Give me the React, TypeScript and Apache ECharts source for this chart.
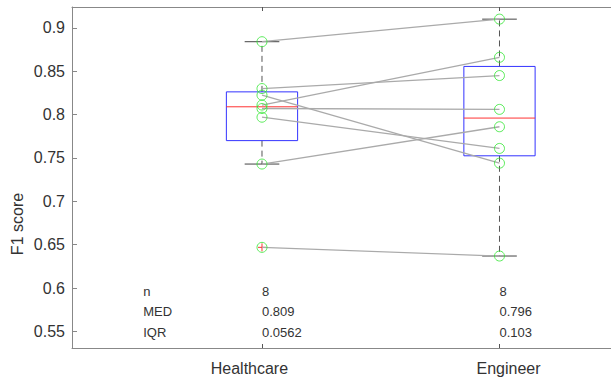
import React, { useEffect, useRef } from 'react';
import * as echarts from 'echarts';

// ---- data ----
const categories = ['Healthcare', 'Engineer'];
// paired observations (same index = same subject)
const healthcare = [0.884, 0.83, 0.8224, 0.811, 0.807, 0.797, 0.743, 0.647];
const engineer = [0.91, 0.845, 0.744, 0.866, 0.806, 0.761, 0.786, 0.637];
const yTicks = [0.55, 0.6, 0.65, 0.7, 0.75, 0.8, 0.85, 0.9];
const statNames = ['n', 'MED', 'IQR'];
const yAxisTitle = 'F1 score';

// MATLAB-style percentile
function prctile(sorted: number[], p: number) {
  const n = sorted.length;
  const pos = n * p + 0.5;
  if (pos <= 1) return sorted[0];
  if (pos >= n) return sorted[n - 1];
  const lo = Math.floor(pos);
  const f = pos - lo;
  return sorted[lo - 1] + f * (sorted[lo] - sorted[lo - 1]);
}

function boxStats(vals: number[]) {
  const s = [...vals].sort((a, b) => a - b);
  const q1 = prctile(s, 0.25);
  const med = prctile(s, 0.5);
  const q3 = prctile(s, 0.75);
  const iqr = q3 - q1;
  const lf = q1 - 1.5 * iqr;
  const uf = q3 + 1.5 * iqr;
  const inside = s.filter((v) => v >= lf && v <= uf);
  return {
    n: s.length,
    q1,
    med,
    q3,
    iqr,
    lo: inside[0],
    hi: inside[inside.length - 1],
    outliers: s.filter((v) => v < lf || v > uf),
  };
}

const groups = [healthcare, engineer];
const stats = groups.map(boxStats);

const TEXT_COLOR = '#333333';
const FONT = '"Liberation Sans", Arial, Helvetica, sans-serif';

export default function App() {
  const ref = useRef<HTMLDivElement>(null);

  useEffect(() => {
    if (!ref.current) return;
    const chart = echarts.init(ref.current, undefined, { renderer: 'svg' });

    const X_MIN = 0.2;
    const X_MAX = 2.4695;
    const Y_MIN = 0.531;
    const Y_MAX = 0.924;
    const STAT_ROWS = [0.5959, 0.5728, 0.5486];

    const pairSeries = healthcare.map((h, i) => ({
      type: 'line',
      xAxisIndex: 0,
      yAxisIndex: 0,
      data: [
        [1, h],
        [2, engineer[i]],
      ],
      symbol: 'none',
      silent: true,
      z: 3,
      lineStyle: { color: '#aaaaaa', width: 1.3 },
    }));

    const option: any = {
      animation: false,
      textStyle: { fontFamily: FONT },
      grid: { left: 72, right: 0, top: 7, bottom: 32, outerBoundsMode: 'none' },
      xAxis: [
        {
          type: 'value',
          min: X_MIN,
          max: X_MAX,
          position: 'bottom',
          splitLine: { show: false },
          axisLine: { show: true, lineStyle: { color: '#888888', width: 1 } },
          axisTick: {
            show: true,
            inside: true,
            length: 4,
            customValues: [1, 2],
            lineStyle: { color: '#555555' },
          },
          axisLabel: {
            show: true,
            customValues: [0.947, 2.038],
            formatter: (v: number) => categories[v < 1.5 ? 0 : 1],
            color: TEXT_COLOR,
            fontSize: 16,
            fontFamily: FONT,
            margin: 12,
          },
        },
        {
          type: 'value',
          min: X_MIN,
          max: X_MAX,
          position: 'top',
          splitLine: { show: false },
          axisLine: { show: true, lineStyle: { color: '#888888', width: 1 } },
          axisTick: {
            show: true,
            inside: true,
            length: 4,
            customValues: [1, 2],
            lineStyle: { color: '#555555' },
          },
          axisLabel: { show: false },
        },
      ],
      yAxis: {
        type: 'value',
        min: Y_MIN,
        max: Y_MAX,
        splitLine: { show: false },
        axisLine: { show: true, lineStyle: { color: '#888888', width: 1 } },
        axisTick: {
          show: true,
          inside: true,
          length: 5,
          customValues: yTicks,
          lineStyle: { color: '#888888' },
        },
        axisLabel: {
          customValues: yTicks,
          formatter: (v: number) => String(Number(v.toFixed(2))),
          color: TEXT_COLOR,
          fontSize: 16,
          fontFamily: FONT,
          margin: 7,
        },
      },
      graphic: [
        {
          type: 'text',
          x: 17,
          y: 224,
          rotation: Math.PI / 2,
          style: {
            text: yAxisTitle,
            fill: TEXT_COLOR,
            font: `16px ${FONT}`,
            align: 'center',
            verticalAlign: 'middle',
          },
        },
      ],
      series: [
        {
          type: 'custom',
          name: 'box',
          xAxisIndex: 0,
          yAxisIndex: 0,
          z: 2,
          silent: true,
          data: stats.map((s, i) => [i + 1, s.lo, s.q1, s.med, s.q3, s.hi]),
          encode: { x: 0, y: [1, 2, 3, 4, 5] },
          renderItem: (params: any, api: any) => {
            const i = params.dataIndex;
            const st = stats[i];
            const x = i + 1;
            const hw = 0.15;
            const cw = 0.073;
            const c = (xx: number, yy: number) => api.coord([xx, yy]);
            const [xc, yMed] = c(x, st.med);
            const [xl, yQ3] = c(x - hw, st.q3);
            const [xr, yQ1] = c(x + hw, st.q1);
            const yHi = c(x, st.hi)[1];
            const yLo = c(x, st.lo)[1];
            const cl = c(x - cw, 0)[0];
            const cr = c(x + cw, 0)[0];
            const children: any[] = [
              {
                type: 'line',
                shape: { x1: xc, y1: yQ3, x2: xc, y2: yHi },
                style: { stroke: '#555555', lineWidth: 1, lineDash: [6, 4] },
              },
              {
                type: 'line',
                shape: { x1: xc, y1: yQ1, x2: xc, y2: yLo },
                style: { stroke: '#555555', lineWidth: 1, lineDash: [6, 4] },
              },
              {
                type: 'line',
                shape: { x1: cl, y1: yHi, x2: cr, y2: yHi },
                style: { stroke: '#444444', lineWidth: 1 },
              },
              {
                type: 'line',
                shape: { x1: cl, y1: yLo, x2: cr, y2: yLo },
                style: { stroke: '#444444', lineWidth: 1 },
              },
              {
                type: 'rect',
                shape: { x: xl, y: yQ3, width: xr - xl, height: yQ1 - yQ3 },
                style: { stroke: '#3333ff', fill: 'none', lineWidth: 1 },
              },
              {
                type: 'line',
                shape: { x1: xl, y1: yMed, x2: xr, y2: yMed },
                style: { stroke: '#ff3333', lineWidth: 1 },
              },
            ];
            st.outliers.forEach((v) => {
              const [ox, oy] = c(x, v);
              children.push(
                {
                  type: 'line',
                  z2: 10,
                  shape: { x1: ox - 4, y1: oy, x2: ox + 4, y2: oy },
                  style: { stroke: '#ff3333', lineWidth: 1 },
                },
                {
                  type: 'line',
                  z2: 10,
                  shape: { x1: ox, y1: oy - 4, x2: ox, y2: oy + 4 },
                  style: { stroke: '#ff3333', lineWidth: 1 },
                }
              );
            });
            return { type: 'group', children };
          },
        },
        ...pairSeries,
        {
          type: 'scatter',
          xAxisIndex: 0,
          yAxisIndex: 0,
          z: 4,
          silent: true,
          symbol: 'circle',
          symbolSize: 10,
          data: [
            ...healthcare.map((v) => [1, v]),
            ...engineer.map((v) => [2, v]),
          ],
          itemStyle: {
            color: 'rgba(0,0,0,0)',
            borderColor: '#33e633',
            borderWidth: 1,
          },
        },
        {
          type: 'custom',
          name: 'stats',
          xAxisIndex: 0,
          yAxisIndex: 0,
          z: 5,
          silent: true,
          data: stats.map((s, i) => [i + 1, s.med]),
          encode: { x: 0, y: 1 },
          renderItem: (params: any, api: any) => {
            const i = params.dataIndex;
            const st = stats[i];
            const values = [String(st.n), st.med.toPrecision(3), st.iqr.toPrecision(3)];
            const children: any[] = [];
            values.forEach((t, r) => {
              const [px, py] = api.coord([i + 1, STAT_ROWS[r]]);
              children.push({
                type: 'text',
                x: px,
                y: py,
                style: {
                  text: t,
                  fill: TEXT_COLOR,
                  font: `13px ${FONT}`,
                  align: 'left',
                  verticalAlign: 'middle',
                },
              });
            });
            if (i === 0) {
              statNames.forEach((t, r) => {
                const [px, py] = api.coord([0.5, STAT_ROWS[r]]);
                children.push({
                  type: 'text',
                  x: px,
                  y: py,
                  style: {
                    text: t,
                    fill: TEXT_COLOR,
                    font: `13px ${FONT}`,
                    align: 'left',
                    verticalAlign: 'middle',
                  },
                });
              });
            }
            return { type: 'group', children };
          },
        },
      ],
    };

    chart.setOption(option);
    return () => chart.dispose();
  }, []);

  return (
    <div
      ref={ref}
      style={{ position: 'fixed', left: 0, top: 0, width: 611, height: 380, background: '#ffffff' }}
    />
  );
}
